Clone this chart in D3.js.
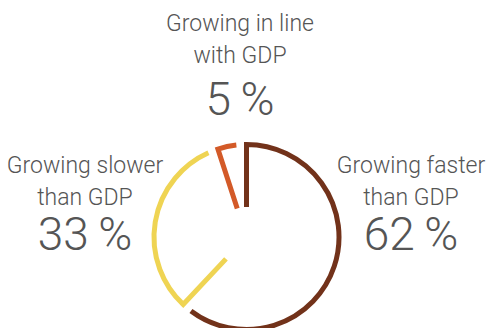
<!DOCTYPE html>
<html>
<head>
<meta charset="utf-8">
<script src="https://cdn.jsdelivr.net/npm/d3@7"></script>
<style>
  html, body { margin: 0; padding: 0; background: #fff; }
  svg { display: block; }
  .lab { font-family: Roboto, "Noto Sans", sans-serif; font-weight: 300; fill: #555; }
</style>
</head>
<body>
<svg id="chart" width="486" height="328"></svg>
<script>
// Share of economies by how fast the measure grows relative to GDP
const categories = ["Growing faster than GDP", "Growing slower than GDP", "Growing in line with GDP"];
const labelLines = [["Growing faster", "than GDP"], ["Growing slower", "than GDP"], ["Growing in line", "with GDP"]];
const shares = [62, 33, 5];
const colors = ["#72321a", "#efd453", "#d35a28"];

const W = 486, H = 328;
const cx = 246.5, cy = 237;
const outerR = 92.5, innerR = 30;
const gap = 6.3 * Math.PI / 180;

const svg = d3.select("#chart");

const pie = d3.pie().sort(null).value(d => d)(shares);

// Each slice: a spoke along its start edge, then the rim up to a small gap
const g = svg.append("g");
pie.forEach((s, i) => {
  const a0 = s.startAngle - Math.PI / 2;
  const a1 = s.endAngle - gap - Math.PI / 2;
  const p = d3.path();
  p.moveTo(cx + innerR * Math.cos(a0), cy + innerR * Math.sin(a0));
  p.lineTo(cx + outerR * Math.cos(a0), cy + outerR * Math.sin(a0));
  p.arc(cx, cy, outerR, a0, a1, false);
  g.append("path")
    .attr("d", p.toString())
    .attr("fill", "none")
    .attr("stroke", colors[i])
    .attr("stroke-width", 5)
    .attr("stroke-linejoin", "miter")
    .attr("stroke-linecap", "butt");
});

// Labels: two lines of description, then the share in large type
const labelPos = [
  { x: 411, y: 172.5, pct: 249.5 },
  { x: 85, y: 172.5, pct: 249.5 },
  { x: 240, y: 31, pct: 115 }
];
labelLines.forEach((lines, i) => {
  const L = labelPos[i];
  const t = svg.append("text").attr("class", "lab").attr("text-anchor", "middle");
  lines.forEach((ln, j) => {
    t.append("tspan").attr("x", L.x).attr("y", L.y + j * 32)
      .style("font-size", "23px").text(ln);
  });
  t.append("tspan").attr("x", L.x).attr("y", L.pct)
    .style("font-size", "46px").text(shares[i] + "\u2009%");
});
</script>
</body>
</html>
